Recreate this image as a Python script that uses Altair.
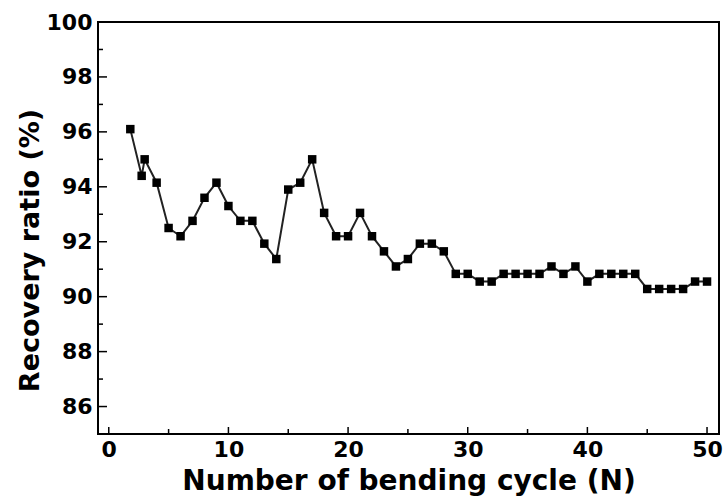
import altair as alt
import pandas as pd

# Recovery ratio measured after each bending cycle
cycles = [1.8, 2.75, 3, 4, 5, 6, 7, 8, 9, 10,
          11, 12, 13, 14, 15, 16, 17, 18, 19, 20,
          21, 22, 23, 24, 25, 26, 27, 28, 29, 30,
          31, 32, 33, 34, 35, 36, 37, 38, 39, 40,
          41, 42, 43, 44, 45, 46, 47, 48, 49, 50]
recovery = [96.1, 94.4, 95.0, 94.15, 92.5, 92.2, 92.76, 93.6, 94.15, 93.3,
            92.76, 92.76, 91.93, 91.37, 93.9, 94.15, 95.0, 93.05, 92.2, 92.2,
            93.05, 92.2, 91.65, 91.1, 91.37, 91.93, 91.93, 91.65, 90.83, 90.83,
            90.55, 90.55, 90.83, 90.83, 90.83, 90.83, 91.1, 90.83, 91.1, 90.55,
            90.83, 90.83, 90.83, 90.83, 90.28, 90.28, 90.28, 90.28, 90.55, 90.55]

# Axis tick positions
y_major = [86, 88, 90, 92, 94, 96, 98, 100]
y_minor = [87, 89, 91, 93, 95, 97, 99]
x_major = [0, 10, 20, 30, 40, 50]
x_minor = [5, 15, 25, 35, 45]

W, H = 621, 412
FONT = "DejaVu Sans"

xs = alt.Scale(domain=[-0.9, 51.0], nice=False, zero=False)
ys = alt.Scale(domain=[85, 100], nice=False, zero=False)

x_axis = alt.Axis(
    values=x_major, format="d", grid=False, ticks=False, tickSize=0, domain=False,
    labelFont=FONT, labelFontWeight="bold", labelFontSize=22, labelColor="black",
    labelPadding=5, labelFlush=False,
    title="Number of bending cycle (N)", titleFont=FONT, titleFontWeight="bold",
    titleFontSize=28, titleColor="black", titleY=55, titleBaseline="alphabetic",
)
y_axis = alt.Axis(
    values=y_major, format="d", grid=False, ticks=False, tickSize=0, domain=False,
    labelFont=FONT, labelFontWeight="bold", labelFontSize=22, labelColor="black",
    labelPadding=6, labelFlush=False,
    title="Recovery ratio (%)", titleFont=FONT, titleFontWeight="bold",
    titleFontSize=27, titleColor="black", titleX=-68, titleY=228,
    titleBaseline="middle", titleAngle=270,
)

X = alt.X("N:Q", scale=xs, axis=x_axis)
Y = alt.Y("R:Q", scale=ys, axis=y_axis)

df = pd.DataFrame({"N": cycles, "R": recovery})
base = alt.Chart(df)

line = base.mark_line(color="#222222", strokeWidth=2).encode(x=X, y=Y)
points = base.mark_square(size=72, color="black", opacity=1).encode(x=X, y=Y)

# Inward-pointing tick marks along the left and bottom edges
def y_ticks(vals, length):
    return alt.Chart(pd.DataFrame({"R": vals})).mark_rule(
        color="black", strokeWidth=1.5
    ).encode(y=Y, x=alt.value(0), x2=alt.value(length))

def x_ticks(vals, length):
    return alt.Chart(pd.DataFrame({"N": vals})).mark_rule(
        color="black", strokeWidth=1.5
    ).encode(x=X, y=alt.value(H), y2=alt.value(H - length))

chart = alt.layer(
    line, points,
    y_ticks(y_major, 9), y_ticks(y_minor, 5),
    x_ticks(x_major, 7), x_ticks(x_minor, 5),
).properties(
    width=W, height=H,
    autosize=alt.AutoSizeParams(type="none"),
    padding={"left": 98, "top": 22, "right": 7, "bottom": 65},
    background="white",
).configure_view(
    stroke="black", strokeWidth=2,
)

chart.save("out.html", embed_options={"renderer": "svg", "actions": False})
